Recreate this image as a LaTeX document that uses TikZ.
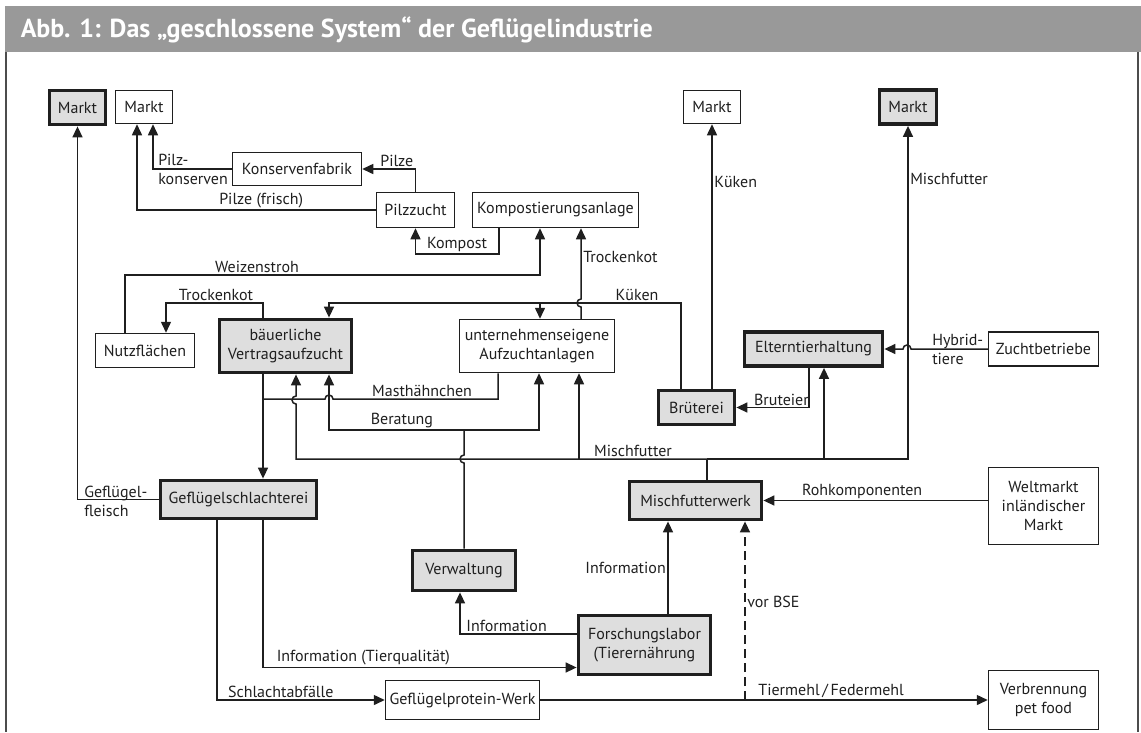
\documentclass[tikz,border=0pt]{standalone}
\usepackage{fontspec}
\setmainfont{PT Sans}
\usetikzlibrary{arrows.meta}
\tikzset{>={Triangle[length=11pt,width=10pt]}}
\colorlet{linecol}{black!88}
\colorlet{boxgray}{black!13}
\colorlet{bargray}{black!40}
\tikzset{
  box/.style={draw=linecol,line width=1.5pt,fill=white,inner sep=2pt,align=center},
  gbox/.style={box,fill=boxgray,line width=3.8pt},
  sz/.style 2 args={minimum width=#1pt,minimum height=#2pt},
  lbl/.style={inner sep=1.5pt,align=left}
}

\begin{document}
\begin{tikzpicture}[x=1pt,y=-1pt,line width=1.5pt,color=linecol,font=\fontsize{16}{19}\selectfont]
  \useasboundingbox (0,0) rectangle (1141,732);
  % title bar and frame
  \fill[bargray] (5,6) rectangle (1141,52);
  \node[anchor=base west,text=white,inner sep=0pt,font=\fontsize{26}{29}\selectfont\bfseries] (title) at (20,37)
    {Abb. 1: Das „geschlossene System“ der Geflügelindustrie};
  \draw[black!70,line width=2pt] (6,52) -- (6,732) (1138,52) -- (1138,732);

  % boxes
  \node[gbox,sz={56}{34}] (markta) at (77.5,107.5) {Markt};
  \node[box,sz={57}{33}] (marktb) at (144,107) {Markt};
  \node[box,sz={129}{33}] (konserv) at (297,169) {Konservenfabrik};
  \node[box,sz={78}{35}] (pilzzucht) at (415.5,210) {Pilzzucht};
  \node[box,sz={166}{35}] (kompost) at (555.5,210) {Kompostierungsanlage};
  \node[box,sz={57}{33}] (marktc) at (712,107) {Markt};
  \node[gbox,sz={57}{34}] (marktd) at (908,107) {Markt};
  \node[box,sz={99}{34}] (nutz) at (145,350.5) {Nutzflächen};
  \node[gbox,sz={132}{53}] (baeuer) at (285.5,346) {bäuerliche\\Vertragsaufzucht};
  \node[box,sz={155}{53}] (unter) at (537,346) {unternehmenseigene\\Aufzuchtanlagen};
  \node[gbox,sz={76}{34}] (brut) at (696.5,407.5) {Brüterei};
  \node[gbox,sz={138}{34}] (eltern) at (813.5,349) {Elterntierhaltung};
  \node[box,sz={110}{34}] (zucht) at (1043.5,349) {Zuchtbetriebe};
  \node[box,sz={110}{77}] (welt) at (1043.5,506) {Weltmarkt\\inländischer\\Markt};
  \node[gbox,sz={156}{38}] (schlacht) at (238.5,499.5) {Geflügelschlachterei};
  \node[gbox,sz={103}{40}] (verwalt) at (464,570.5) {Verwaltung};
  \node[gbox,sz={132}{59}] (forsch) at (644.5,645) {Forschungslabor\\(Tierernährung};
  \node[gbox,sz={132}{38}] (misch) at (695.5,500.5) {Mischfutterwerk};
  \node[box,sz={154}{39}] (protein) at (462.5,700) {Geflügelprotein-Werk};
  \node[box,sz={110}{59}] (verbr) at (1043.5,700) {Verbrennung\\pet food};

  % markets
  \draw[->] (schlacht.west) -| (markta.south);
  \node[lbl,anchor=west] (lfleisch) at (82,501) {Geflügel-\\fleisch};
  \draw[->] (pilzzucht.west) -| node[lbl,above,pos=0.24]{Pilze (frisch)} ([xshift=-7]marktb.south);
  \draw[->] (konserv.west) -| ([xshift=9]marktb.south);
  \node[lbl,anchor=west] (lkonserv) at (156,169) {Pilz-\\konserven};
  \draw[->] (pilzzucht.north) |- node[lbl,above left,pos=0.5]{Pilze} (konserv.east);
  \draw[->] ([xshift=-56.5]kompost.south) |- (457,254) node[lbl,above]{Kompost} -| (pilzzucht.south);

  % straw and droppings
  \draw[->] ([xshift=-20]nutz.north) |- (257,275) node[lbl,above]{Weizenstroh} -| ([xshift=-15.5]kompost.south);
  \draw[->] ([xshift=-22.5]baeuer.north) |- (216,303) node[lbl,above]{Trockenkot} -| ([xshift=21]nutz.north);
  \draw[->] ([xshift=44]unter.north) -- (581,307) arc[start angle=270,end angle=90,radius=4pt]
    -- node[lbl,right,pos=0.6]{Trockenkot} ([xshift=25.5]kompost.south);

  % chicks
  \coordinate (kf) at (540,303);
  \draw[->] ([xshift=-15.5]brut.north) |- (637,303) node[lbl,above]{Küken} -| ([xshift=43.5]baeuer.north);
  \draw[->] (kf) -- ([xshift=3]unter.north);
  \draw[->] (brut.north -| marktc.south) -- node[lbl,right,pos=0.78]{Küken} (marktc.south);
  \draw[->] ([xshift=-4.5]eltern.south) |- node[lbl,above,pos=0.69]{Bruteier} (brut.east);
  \draw[->] (zucht.west) -- (911,349) arc[start angle=0,end angle=180,radius=4pt] -- (eltern.east);
  \node[lbl,anchor=west] (lhybrid) at (930,349) {Hybrid-\\tiere};

  % feed
  \coordinate (mf) at (707,459);
  \draw ([xshift=11.5]misch.north) -- (mf);
  \draw[->] (mf) -| node[lbl,right,pos=0.92]{Mischfutter} (marktd.south);
  \draw[->] (mf) -- node[lbl,above,pos=0.18]{Mischfutter} (296,459) -- (296,404)
    arc[start angle=270,end angle=90,radius=4pt] -- ([xshift=10.5]baeuer.south);
  \draw[->] (579,459) -- ([xshift=42]unter.south);
  \draw[->] (824,459) -- ([xshift=10.5]eltern.south);

  % broilers and advice
  \draw ([xshift=-39]unter.south) |- node[lbl,above,pos=0.73]{Masthähnchen} (333,399)
    arc[start angle=0,end angle=180,radius=4pt] -- (263,399);
  \draw[->] ([xshift=-22.5]baeuer.south) -- ([xshift=24.5]schlacht.north);
  \coordinate (bf) at (464,430);
  \draw (verwalt.north) -- (464,463) arc[start angle=270,end angle=90,radius=4pt] -- (bf);
  \draw[->] (bf) -| node[lbl,above,pos=0.23]{Beratung} ([xshift=43.5]baeuer.south);
  \draw[->] (bf) -| ([xshift=2]unter.south);

  % information and waste
  \draw[->] ([yshift=11]forsch.west) -| node[lbl,above,pos=0.3]{Information} ([xshift=-4]verwalt.south);
  \draw[->] ([xshift=24.5]schlacht.south) |- node[lbl,above,pos=0.66]{Information (Tierqualität)} ([yshift=-22.5]forsch.west);
  \draw[->] ([xshift=-21.5]schlacht.south) |- node[lbl,above,pos=0.69]{Schlachtabfälle} (protein.west);
  \draw[->] (protein.east) -- node[lbl,above,pos=0.65]{Tiermehl\,/\,Federmehl} (verbr.west);
  \coordinate (bse) at (745,700);
  \draw[->,dashed,dash pattern=on 9pt off 5pt] (bse) -- node[lbl,right,pos=0.55]{vor BSE} ([xshift=49.5]misch.south);
  \draw[->] ([xshift=23.5]forsch.north) -- node[lbl,left,pos=0.5]{Information} ([xshift=-27.5]misch.south);
  \draw[->] (welt.west |- misch.east) -- node[lbl,above,pos=0.56]{Rohkomponenten} (misch.east);
\end{tikzpicture}
\end{document}
